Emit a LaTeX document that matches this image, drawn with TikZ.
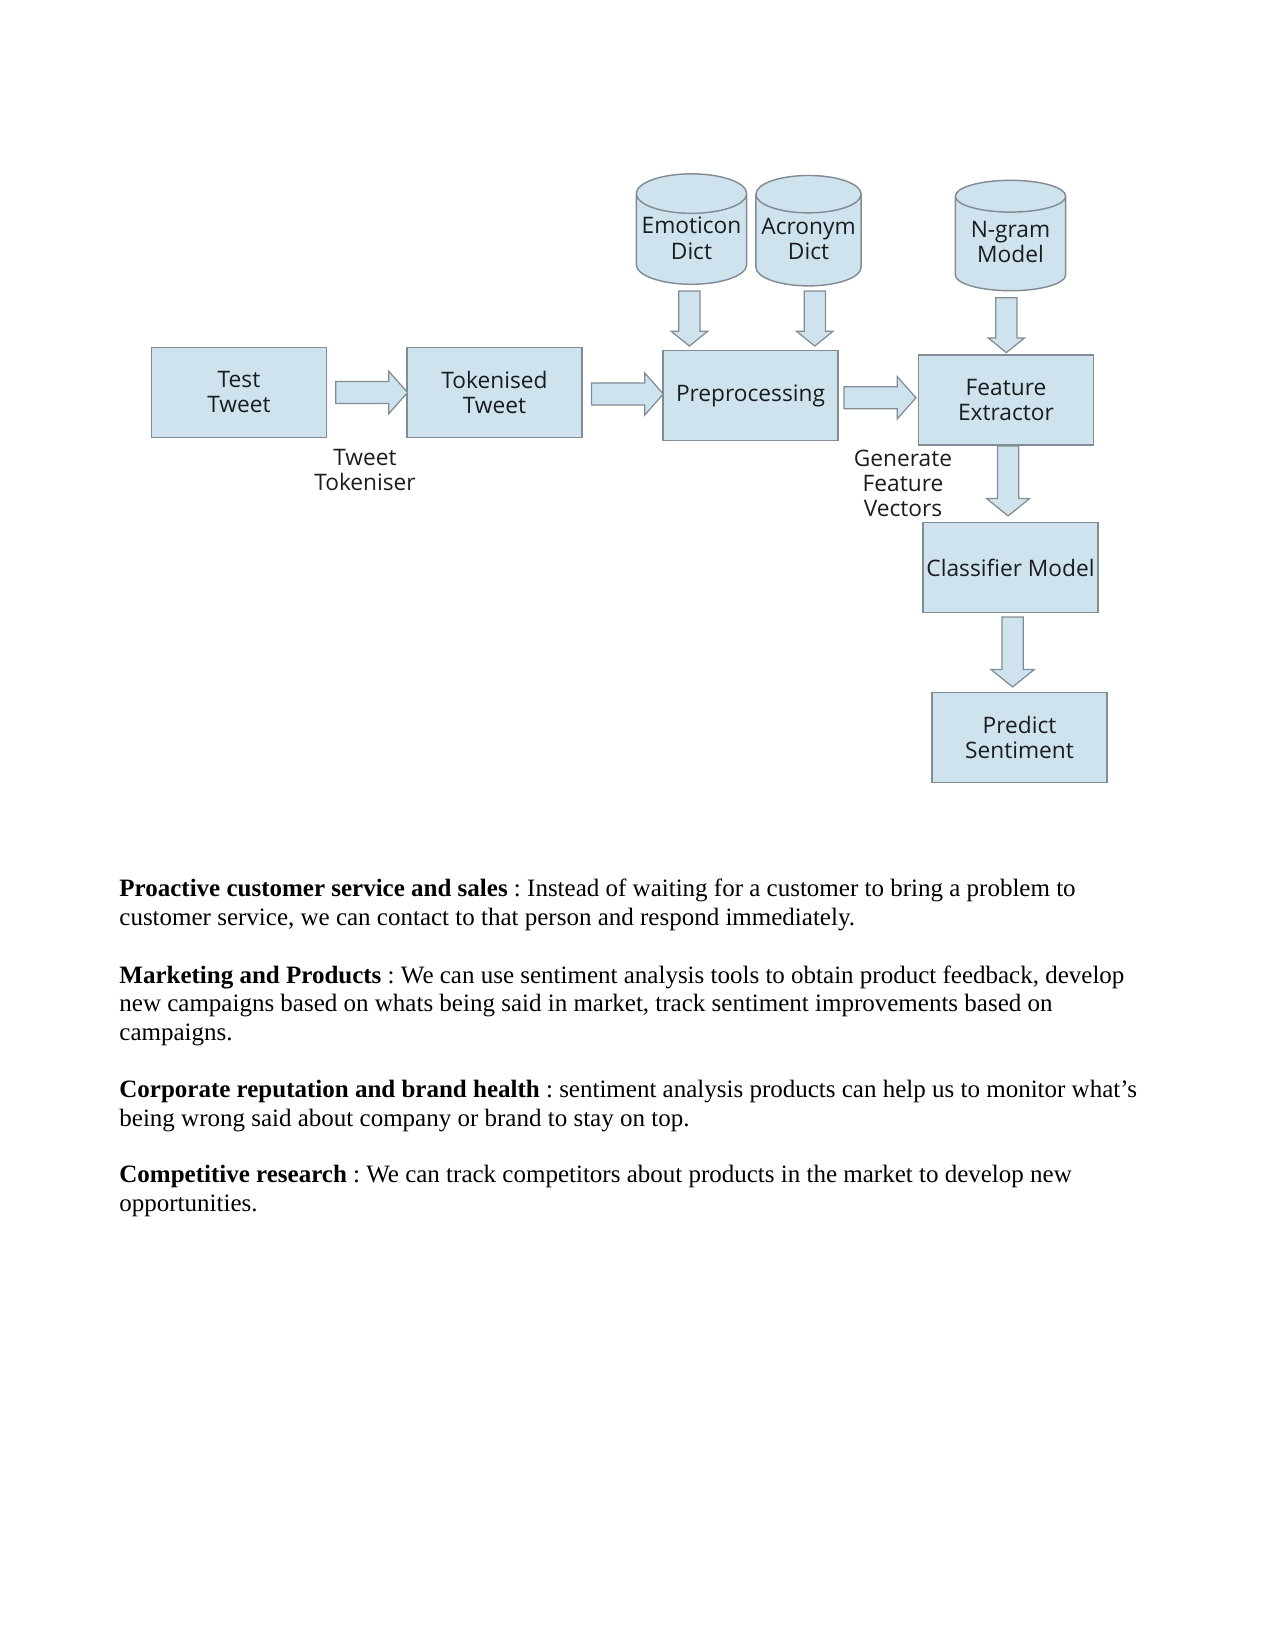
\documentclass[tikz,border=0pt]{standalone}
\usepackage{fontspec}
\setmainfont{Liberation Serif}
\newfontfamily\diagfont{Open Sans}
\usepackage{tikz}
\usetikzlibrary{shapes.geometric, shapes.arrows, positioning}
\usepackage{xcolor}
\definecolor{box-fill}{RGB}{207,227,239}
\definecolor{box-line}{RGB}{130,140,148}
\definecolor{box-text}{RGB}{25,28,32}
\frenchspacing

\begin{document}
\begin{tikzpicture}[
    x=0.48pt, y=-0.48pt,
    %% Process box
    proc/.style = {rectangle, draw=box-line, line width=0.7pt, fill=box-fill,
                   minimum width=84pt, minimum height=43pt,
                   font=\diagfont\fontsize{10.9}{12}\selectfont,
                   text=box-text, align=center, inner sep=1pt},
    %% Data store (cylinder)
    store/.style = {cylinder, shape border rotate=90, aspect=0.38,
                    draw=box-line, line width=0.7pt, fill=box-fill,
                    minimum width=53pt, minimum height=53pt, text depth=4pt,
                    font=\diagfont\fontsize{10.9}{12.4}\selectfont,
                    text=box-text, align=center, inner sep=1pt},
    %% Free label under an arrow
    lbl/.style  = {font=\diagfont\fontsize{10.9}{12}\selectfont,
                   text=box-text, align=center},
    %% Block arrows (shaft width from text height)
    harr/.style = {single arrow, draw=box-line, line width=0.6pt, fill=box-fill,
                   text height=10pt, text depth=0pt, inner sep=0pt,
                   minimum height=34.5pt, single arrow tip angle=97,
                   single arrow head extend=4.85pt},
    varr/.style = {single arrow, rotate=-90, anchor=tip,
                   draw=box-line, line width=0.6pt, fill=box-fill,
                   text height=9.6pt, text depth=0pt, inner sep=0pt,
                   minimum height=26.4pt, single arrow tip angle=102,
                   single arrow head extend=3.6pt},
    lvarr/.style = {varr, minimum height=33.6pt,
                    single arrow head extend=5.3pt},
    %% Body paragraphs (placed at last baseline)
    para/.style = {anchor=base west, align=left, inner sep=0pt,
                   font=\fontsize{12}{13.6}\selectfont},
]
\useasboundingbox (0,0) rectangle (1275,1650);

%% ---- Row 1: the tweet pipeline ----
\node[proc] (test) at (239,  392.5) {Test\\Tweet};
\node[proc] (tok)  at (494.5,392.5) {Tokenised\\Tweet};
\node[proc] (prep) at (750.5,395.5) {Preprocessing};
\node[proc] (feat) at (1006, 400)   {Feature\\Extractor};

%% dictionaries and model stores
\node[store] (emo)   at (691.5, 242) {Emoticon\\Dict};
\node[store, minimum width=50.5pt] (acr) at (808.5, 243) {Acronym\\Dict};
\node[store] (ngram) at (1010.5,246) {N-gram\\Model};

%% ---- Column: classification ----
\node[proc] (clf)  at (1010.5,567.5) {Classifier Model};
\node[proc] (pred) at (1019.5,737.5) {Predict\\Sentiment};

%% labels
\node[lbl] (toklbl) at (365, 470) {Tweet\\Tokeniser};
\node[lbl] (genlbl) at (903, 483) {Generate\\Feature\\Vectors};

%% horizontal arrows
\path (test.east) -- (tok.west)  node[harr, midway] {};
\path (tok.east)  -- (prep.west) node[harr, midway] {};
\path (prep.east) -- (feat.west) node[xshift=-1.5pt, harr, midway] {};

%% store -> box arrows (tip just above the box)
\path (emo)   -- (prep.north -| emo)   node[xshift=-1pt,   yshift=1.5pt, varr, pos=1] {};
\path (acr)   -- (prep.north -| acr)   node[xshift=3pt,    yshift=1.5pt, varr, pos=1] {};
\path (ngram) -- (feat.north -| ngram) node[xshift=-2pt,   yshift=0.5pt, varr, pos=1] {};

%% downward arrows
\path (feat) -- (clf.north -| feat) node[xshift=1pt, yshift=2.5pt, lvarr, pos=1] {};
\path (clf)  -- (pred.north -| clf) node[xshift=1pt, yshift=2pt,   lvarr, pos=1] {};

%% ---- Text below the diagram ----
\node[para] (p1) at (119, 925) {\textbf{Proactive customer service and sales} : Instead of waiting for a customer to bring a problem to\\
customer service, we can contact to that person and respond immediately.};
\node[para] (p2) at (119, 1040) {\textbf{Marketing and Products} : We can use sentiment analysis tools to obtain product feedback, develop\\
new campaigns based on whats being said in market, track sentiment improvements based on\\
campaigns.};
\node[para] (p3) at (119, 1126) {\textbf{Corporate reputation and brand health} : sentiment analysis products can help us to monitor what’s\\
being wrong said about company or brand to stay on top.};
\node[para] (p4) at (119, 1211) {\textbf{Competitive research} : We can track competitors about products in the market to develop new\\
opportunities.};

\end{tikzpicture}
\end{document}
